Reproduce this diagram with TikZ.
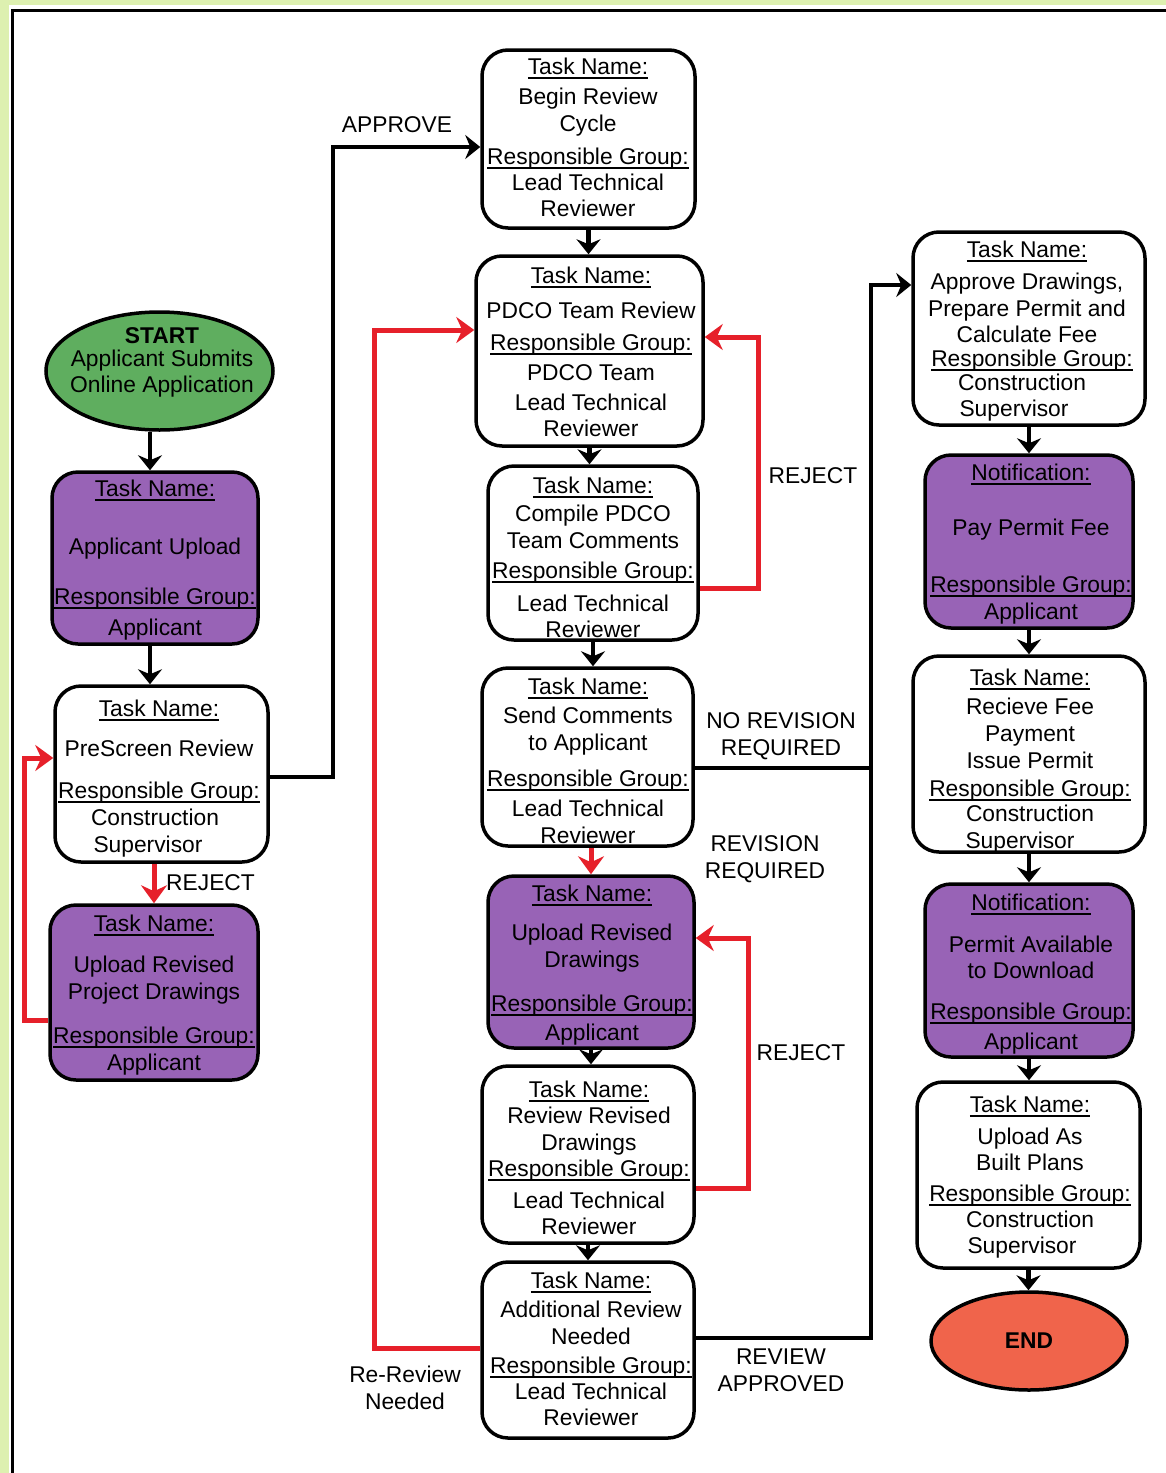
\documentclass[tikz,border=0pt]{standalone}
\usepackage{fontspec}
\setmainfont{Liberation Sans}
\usetikzlibrary{arrows.meta,calc,shapes.geometric}
\definecolor{purp}{HTML}{9863B6}
\definecolor{startgreen}{HTML}{5FAE5F}
\definecolor{endred}{HTML}{F0644B}
\definecolor{lred}{HTML}{E6202A}
\definecolor{lgreen}{HTML}{DDF0B0}
\newcommand\myul[1]{\setbox0\hbox{#1}\leavevmode\rlap{\vrule height -3pt depth 4.6pt width \wd0}\box0}
\newcommand\boxtext[3]{\foreach \myy/\mytxt in {#3}{\node[txt] (#1-\myy) at (#2,\myy) {\mytxt};}}
\newcommand\TN{\myul{Task Name:}}
\newcommand\RG{\myul{Responsible Group:}}
\newcommand\NT{\myul{Notification:}}
\begin{document}
\begin{tikzpicture}[x=1pt,y=-1pt,
  txt/.style={anchor=base, yshift=-8pt, inner sep=0pt, font=\fontsize{22.8}{27}\selectfont},
  lab/.style={inner sep=0pt, align=center, font=\fontsize{22.8}{27}\selectfont},
  tbox/.style={draw=black, line width=3.5pt, rounded corners=26pt, inner sep=0pt, fill=white},
  pbox/.style={tbox, fill=purp},
  conn/.style={line width=4.5pt, -{Stealth[length=15pt,width=24pt,inset=5pt]}},
  bline/.style={line width=4pt},
  rconn/.style={draw=lred, line width=5pt, -{Stealth[length=18pt,width=26pt,inset=6pt]}},
]
\useasboundingbox (0,0) rectangle (1166,1473);
% frame
\fill[white] (0,0) rectangle (1166,1473);
\fill[lgreen] (0,0) rectangle (1166,5);
\fill[lgreen] (0,0) rectangle (9,1473);
\draw[line width=3pt] (12,1473) -- (12,10) -- (1166,10);

% left column
\node[ellipse, draw, line width=3.5pt, fill=startgreen, minimum width=227pt, minimum height=118pt, inner sep=0pt] (start) at (159.5,371) {};
\boxtext{st}{162}{335/\textbf{START}, 358/Applicant Submits, 384/Online Application}
\node[pbox, minimum width=206pt, minimum height=172pt] (b1) at (155,558) {};
\boxtext{b1}{155}{488/\TN, 546/Applicant Upload, 596/\RG, 627/Applicant}
\node[tbox, minimum width=213pt, minimum height=176pt] (b2) at (161.5,774) {};
\boxtext{b2}{159}{708/\TN, 748/PreScreen Review, 790/\RG}
\boxtext{b2b}{155}{817/Construction}
\boxtext{b2c}{148}{844/Supervisor}
\node[pbox, minimum width=208pt, minimum height=175pt] (b3) at (154,992.5) {};
\boxtext{b3}{154}{923/\TN, 964/Upload Revised, 991/Project Drawings, 1035/\RG, 1062/Applicant}

% middle column
\node[tbox, minimum width=213pt, minimum height=178pt] (b4) at (588.5,139) {};
\boxtext{b4}{588}{66/\TN, 96/Begin Review, 123/Cycle, 156/\RG, 182/Lead Technical, 208/Reviewer}
\node[tbox, minimum width=227pt, minimum height=190pt] (b5) at (589.5,351) {};
\boxtext{b5}{591}{275/\TN, 310/PDCO Team Review, 342/\RG, 372/PDCO Team, 402/Lead Technical, 428/Reviewer}
\node[tbox, minimum width=210pt, minimum height=174pt] (b6) at (593,553) {};
\boxtext{b6}{593}{485/\TN, 513/Compile PDCO, 540/Team Comments, 570/\RG, 603/Lead Technical, 629/Reviewer}
\node[tbox, minimum width=211pt, minimum height=178pt] (b7) at (587.5,757) {};
\boxtext{b7}{588}{686/\TN, 715/Send Comments, 742/to Applicant, 778/\RG, 808/Lead Technical, 835/Reviewer}
\node[pbox, minimum width=206pt, minimum height=172pt] (b8) at (591,962) {};
\boxtext{b8}{592}{893/\TN, 932/Upload Revised, 959/Drawings, 1003/\RG, 1032/Applicant}
\node[tbox, minimum width=212pt, minimum height=177pt] (b9) at (588,1154.5) {};
\boxtext{b9}{589}{1089/\TN, 1115/Review Revised, 1142/Drawings, 1168/\RG, 1200/Lead Technical, 1226/Reviewer}
\node[tbox, minimum width=212pt, minimum height=176pt] (b10) at (588,1350) {};
\boxtext{b10}{591}{1280/\TN, 1309/Additional Review, 1336/Needed, 1365/\RG, 1391/Lead Technical, 1417/Reviewer}

% right column
\node[tbox, minimum width=232pt, minimum height=193pt] (b11) at (1029,328.5) {};
\boxtext{b11}{1027}{249/\TN, 281/{Approve Drawings,}, 308/Prepare Permit and, 334/Calculate Fee}
\boxtext{b11b}{1032}{358/\RG}
\boxtext{b11c}{1022}{382/Construction}
\boxtext{b11d}{1014}{408/Supervisor}
\node[pbox, minimum width=208pt, minimum height=173pt] (b12) at (1029,541.5) {};
\boxtext{b12}{1031}{472/\NT, 527/Pay Permit Fee, 584/\RG, 611/Applicant}
\node[tbox, minimum width=232pt, minimum height=196pt] (b13) at (1029,754) {};
\boxtext{b13}{1030}{677/\TN, 706/Recieve Fee, 733/Payment, 760/Issue Permit, 788/\RG, 813/Construction}
\boxtext{b13b}{1020}{840/Supervisor}
\node[pbox, minimum width=208pt, minimum height=173pt] (b14) at (1029,970.5) {};
\boxtext{b14}{1031}{902/\NT, 944/Permit Available, 970/to Download, 1011/\RG, 1041/Applicant}
\node[tbox, minimum width=223pt, minimum height=186pt] (b15) at (1028.5,1175) {};
\boxtext{b15}{1030}{1104/\TN, 1136/Upload As, 1162/Built Plans, 1193/\RG, 1219/Construction}
\boxtext{b15b}{1022}{1245/Supervisor}
\node[ellipse, draw, line width=3.5pt, fill=endred, minimum width=196pt, minimum height=98pt, inner sep=0pt] (end) at (1029,1341) {};
\node[txt] (endt) at (1029,1340) {\textbf{END}};

% black vertical arrows
\draw[conn] (start.south -| 150,0) -- (b1.north -| 150,0);
\draw[conn] (b1.south -| 150,0) -- (b2.north -| 150,0);
\draw[conn] (b4.south) -- (b5.north -| b4.south);
\draw[conn] (b5.south) -- (b6.north -| b5.south);
\draw[conn] (b6.south) -- (b7.north -| b6.south);
\draw[conn] (b8.south) -- (b9.north -| b8.south);
\draw[conn] (b9.south) -- (b10.north -| b9.south);
\draw[conn] (b11.south) -- (b12.north -| b11.south);
\draw[conn] (b12.south) -- (b13.north -| b12.south);
\draw[conn] (b13.south) -- (b14.north -| b13.south);
\draw[conn] (b14.south) -- (b15.north -| b14.south);
\draw[conn] (b15.south) -- (end.north -| b15.south);

% black routed connectors
\draw[conn, line width=4pt] (b2.east |- 0,777) -| (333,147) -- (b4.west |- 0,147);
\draw[conn, line width=4pt] (b10.east |- 0,1338) -| (871,285) -- (b11.west |- 0,285);
\draw[bline] (b7.east |- 0,768) -- (871,768);

% red connectors
\draw[rconn] (b3.north |- b2.south) -- (b3.north);
\draw[rconn] (b3.west |- 0,1020) -| (24,758) -- (b2.west |- 0,758);
\draw[rconn] (b6.east |- 0,588) -| (758,337) -- (b5.east |- 0,337);
\draw[rconn] (b8.north |- b7.south) -- (b8.north);
\draw[rconn] (b9.east |- 0,1188) -| (748,938) -- (b8.east |- 0,938);
\draw[rconn] (b10.west |- 0,1348) -| (374,330) -- (b5.west |- 0,330);

% labels
\node[lab] (lapprove) at (397,125) {APPROVE};
\node[lab, anchor=west] (lrej1) at (166,883) {REJECT};
\node[lab] (lrej2) at (813,476) {REJECT};
\node[lab] (lnorev) at (781,736) {NO REVISION\\REQUIRED};
\node[lab] (lrev) at (765,859) {REVISION\\REQUIRED};
\node[lab] (lrej3) at (801,1053) {REJECT};
\node[lab] (lrerev) at (405,1388) {Re-Review\\Needed};
\node[lab] (lrevapp) at (781,1370) {REVIEW\\APPROVED};
\end{tikzpicture}
\end{document}
